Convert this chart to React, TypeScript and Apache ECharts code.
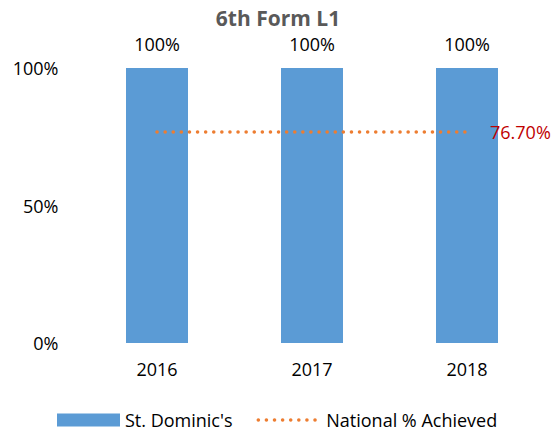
import React, { useEffect, useRef } from "react";
import * as echarts from "echarts";

const categories = ["2016", "2017", "2018"];
const schoolValues = [100, 100, 100];
const nationalValues = [76.7, 76.7, 76.7];
const yTicks = [0, 50, 100];

const FONT = "'Open Sans', 'Liberation Sans', sans-serif";
const DOTS = { color: "#ED7D31", width: 3.5, type: [0.1, 8], cap: "round" };

export default function App() {
  const ref = useRef<HTMLDivElement>(null);
  useEffect(() => {
    if (!ref.current) return;
    const chart = echarts.init(ref.current, undefined, { renderer: "svg" });
    chart.setOption({
      animation: false,
      textStyle: { fontFamily: FONT },
      title: {
        text: "6th Form L1",
        left: "center",
        top: 2,
        padding: [5, 0, 5, 10],
        textStyle: { fontSize: 21, fontWeight: "bold", color: "#595959", fontFamily: FONT },
      },
      grid: { left: 79.5, right: 11.5, top: 68, bottom: 89 },
      xAxis: {
        type: "category",
        data: categories,
        axisLine: { show: false },
        axisTick: { show: false },
        axisLabel: { fontSize: 18, color: "#000", margin: 17, fontFamily: FONT },
      },
      yAxis: {
        type: "value",
        min: yTicks[0],
        max: yTicks[yTicks.length - 1],
        interval: 50,
        splitLine: { show: false },
        axisLine: { show: false },
        axisTick: { show: false },
        axisLabel: { fontSize: 18, color: "#000", margin: 21, formatter: "{value}%", fontFamily: FONT },
      },
      legend: {
        top: 410,
        left: 57,
        padding: 0,
        itemGap: 24,
        itemWidth: 63,
        itemHeight: 13,
        textStyle: { fontSize: 18, lineHeight: 20, color: "#000", fontFamily: FONT },
        data: [
          { name: "St. Dominic's", icon: "rect" },
          {
            name: "National % Achieved",
            itemStyle: { color: "transparent", borderWidth: 0 },
            lineStyle: DOTS,
          },
        ],
      },
      series: [
        {
          name: "St. Dominic's",
          type: "bar",
          data: schoolValues,
          barWidth: "40%",
          itemStyle: { color: "#5B9BD5" },
          label: {
            show: true,
            position: "top",
            distance: 15,
            formatter: "{c}%",
            fontSize: 18,
            color: "#000",
            fontFamily: FONT,
          },
        },
        {
          name: "National % Achieved",
          type: "line",
          data: nationalValues,
          symbol: "none",
          z: 5,
          lineStyle: DOTS,
          itemStyle: { color: "#ED7D31" },
          endLabel: {
            show: true,
            formatter: (p: any) => p.value.toFixed(2) + "%",
            fontSize: 18,
            color: "#C00000",
            distance: 23,
            fontFamily: FONT,
          },
        },
      ],
    });
    return () => chart.dispose();
  }, []);
  return <div ref={ref} style={{ position: "absolute", left: 0, top: 0, width: 556, height: 432 }} />;
}
